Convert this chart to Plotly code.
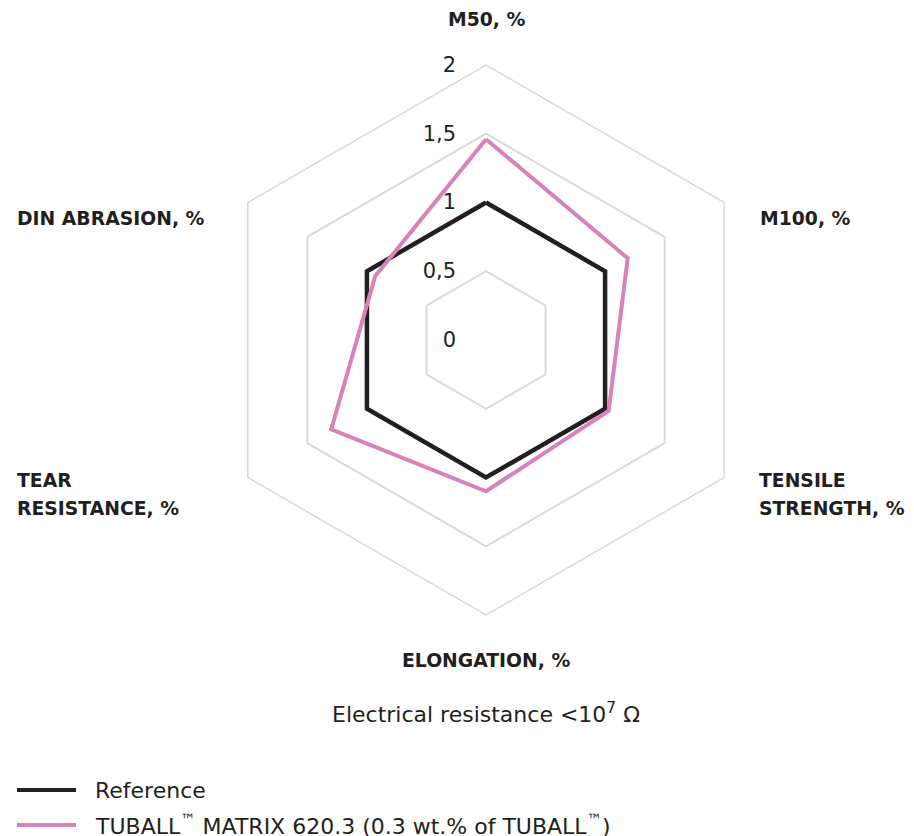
import plotly.graph_objects as go

categories = ["M50, %", "M100, %", "TENSILE STRENGTH, %", "ELONGATION, %", "TEAR RESISTANCE, %", "DIN ABRASION, %"]
reference_values = [1.0, 1.0, 1.0, 1.0, 1.0, 1.0]
tuball_values = [1.46, 1.19, 1.03, 1.1, 1.3, 0.93]
radial_ticks = [0, 0.5, 1, 1.5, 2]
series_names = ["Reference", "TUBALL\u2122 MATRIX 620.3 (0.3 wt.% of TUBALL\u2122)"]

# page body has an 8px margin, so draw on a slightly smaller canvas
OFF = 8
W, H = 914 - OFF, 836 - OFF
DARK = "#231f20"
PINK = "#d982b8"
FONT = "DejaVu Sans"

def px(x):
    return (x - OFF) / W

def py(y):
    return 1 - (y - OFF) / H

fig = go.Figure()
fig.add_trace(go.Scatterpolar(
    r=reference_values + reference_values[:1], theta=categories + categories[:1],
    mode="lines", name=series_names[0], line=dict(color=DARK, width=4.5), showlegend=False))
fig.add_trace(go.Scatterpolar(
    r=tuball_values + tuball_values[:1], theta=categories + categories[:1],
    mode="lines", name=series_names[1], line=dict(color=PINK, width=4), showlegend=False))

cx, cy, R = 486, 340, 275
fig.update_layout(
    width=W, height=H,
    margin=dict(l=0, r=0, t=0, b=0),
    paper_bgcolor="white", plot_bgcolor="white",
    separators=",.",
    font=dict(family=FONT, color=DARK, size=22),
    polar=dict(
        domain=dict(x=[px(cx - R), px(cx + R)], y=[py(cy + R), py(cy - R)]),
        gridshape="linear",
        bgcolor="white",
        radialaxis=dict(range=[0, 2], tickvals=radial_ticks, angle=90, side="counterclockwise",
                        showline=False, gridcolor="#d9d9d9", gridwidth=1.5,
                        ticks="outside", ticklen=22, tickcolor="rgba(0,0,0,0)", tickangle=90,
                        tickfont=dict(family=FONT, size=21, color=DARK)),
        angularaxis=dict(rotation=90, direction="clockwise", showgrid=False,
                         showline=True, linecolor="#d9d9d9", linewidth=1.5,
                         showticklabels=False, ticks=""),
    ),
)

bold = dict(family=FONT, size=18.8, color=DARK)
labels = [
    ("<b>M50, %</b>", 486, 20, "center"),
    ("<b>M100, %</b>", 758, 218, "left"),
    ("<b>TENSILE</b>", 757, 480, "left"),
    ("<b>STRENGTH, %</b>", 757, 508, "left"),
    ("<b>ELONGATION, %</b>", 486, 660, "center"),
    ("<b>TEAR</b>", 15, 480, "left"),
    ("<b>RESISTANCE, %</b>", 15, 508, "left"),
    ("<b>DIN ABRASION, %</b>", 15, 218, "left"),
]
for text, x, y, anchor in labels:
    fig.add_annotation(text=text, x=px(x), y=py(y), xref="paper", yref="paper",
                       xanchor=anchor, yanchor="middle", showarrow=False, font=bold)

fig.add_annotation(text="Electrical resistance &lt;10<sup>7</sup> \u03a9", x=px(486), y=py(713),
                   xref="paper", yref="paper", xanchor="center", yanchor="middle",
                   showarrow=False, font=dict(family=FONT, size=22, color=DARK))

# legend
for i, (name, color) in enumerate(zip(series_names, [DARK, PINK])):
    yy = 790 + 35 * i
    fig.add_shape(type="line", xref="paper", yref="paper", x0=px(17), x1=px(76), y0=py(yy), y1=py(yy),
                  line=dict(color=color, width=4))
    fig.add_annotation(text=name.replace("\u2122", "<sup>\u2122</sup>"), x=px(93), y=py(yy),
                       xref="paper", yref="paper", xanchor="left", yanchor="middle",
                       showarrow=False, font=dict(family=FONT, size=22, color=DARK))

fig.write_html("out.html")
